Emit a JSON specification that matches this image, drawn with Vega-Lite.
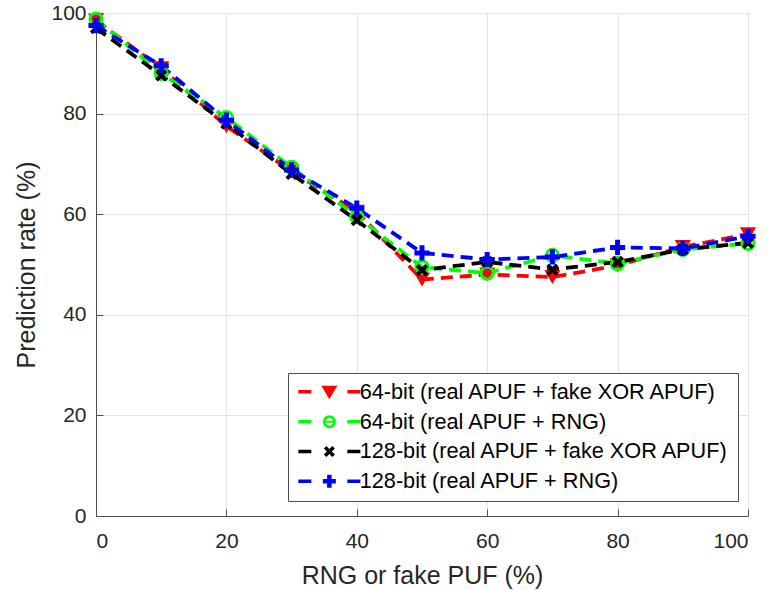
{
  "$schema": "https://vega.github.io/schema/vega-lite/v6.json",
  "width": 652,
  "height": 503,
  "autosize": {"type": "none"},
  "padding": {"left": 96, "top": 13, "right": 20, "bottom": 74},
  "background": "white",
  "config": {
    "font": "Liberation Sans",
    "view": {"stroke": "#4d4d4d", "strokeWidth": 1},
    "axis": {
      "labelFont": "Liberation Sans",
      "titleFont": "Liberation Sans",
      "labelFontSize": 21,
      "titleFontSize": 25,
      "titleFontWeight": "normal",
      "labelColor": "#262626",
      "titleColor": "#262626",
      "domainColor": "#4d4d4d",
      "tickColor": "#4d4d4d",
      "gridColor": "#e3e3e3",
      "gridWidth": 1,
      "tickSize": -7,
      "tickWidth": 1
    }
  },
  "data": {
    "values": [
      {"series": "64-bit (real APUF + fake XOR APUF)", "x": 0, "y": 98.5},
      {"series": "64-bit (real APUF + fake XOR APUF)", "x": 10, "y": 89},
      {"series": "64-bit (real APUF + fake XOR APUF)", "x": 20, "y": 77.5},
      {"series": "64-bit (real APUF + fake XOR APUF)", "x": 30, "y": 68.5},
      {"series": "64-bit (real APUF + fake XOR APUF)", "x": 40, "y": 60.5},
      {"series": "64-bit (real APUF + fake XOR APUF)", "x": 50, "y": 47},
      {"series": "64-bit (real APUF + fake XOR APUF)", "x": 60, "y": 48},
      {"series": "64-bit (real APUF + fake XOR APUF)", "x": 70, "y": 47.5},
      {"series": "64-bit (real APUF + fake XOR APUF)", "x": 80, "y": 49.8},
      {"series": "64-bit (real APUF + fake XOR APUF)", "x": 90, "y": 53.5},
      {"series": "64-bit (real APUF + fake XOR APUF)", "x": 100, "y": 56},
      {"series": "64-bit (real APUF + RNG)", "x": 0, "y": 98.8},
      {"series": "64-bit (real APUF + RNG)", "x": 10, "y": 88},
      {"series": "64-bit (real APUF + RNG)", "x": 20, "y": 79.2},
      {"series": "64-bit (real APUF + RNG)", "x": 30, "y": 69.3},
      {"series": "64-bit (real APUF + RNG)", "x": 40, "y": 59.5},
      {"series": "64-bit (real APUF + RNG)", "x": 50, "y": 49.5},
      {"series": "64-bit (real APUF + RNG)", "x": 60, "y": 48.3},
      {"series": "64-bit (real APUF + RNG)", "x": 70, "y": 51.8},
      {"series": "64-bit (real APUF + RNG)", "x": 80, "y": 50.2},
      {"series": "64-bit (real APUF + RNG)", "x": 90, "y": 53},
      {"series": "64-bit (real APUF + RNG)", "x": 100, "y": 54.2},
      {"series": "128-bit (real APUF + fake XOR APUF)", "x": 0, "y": 97},
      {"series": "128-bit (real APUF + fake XOR APUF)", "x": 10, "y": 87.6},
      {"series": "128-bit (real APUF + fake XOR APUF)", "x": 20, "y": 78},
      {"series": "128-bit (real APUF + fake XOR APUF)", "x": 30, "y": 68},
      {"series": "128-bit (real APUF + fake XOR APUF)", "x": 40, "y": 58.8},
      {"series": "128-bit (real APUF + fake XOR APUF)", "x": 50, "y": 48.9},
      {"series": "128-bit (real APUF + fake XOR APUF)", "x": 60, "y": 50.5},
      {"series": "128-bit (real APUF + fake XOR APUF)", "x": 70, "y": 49},
      {"series": "128-bit (real APUF + fake XOR APUF)", "x": 80, "y": 50.5},
      {"series": "128-bit (real APUF + fake XOR APUF)", "x": 90, "y": 53},
      {"series": "128-bit (real APUF + fake XOR APUF)", "x": 100, "y": 54.3},
      {"series": "128-bit (real APUF + RNG)", "x": 0, "y": 97.5},
      {"series": "128-bit (real APUF + RNG)", "x": 10, "y": 89.5},
      {"series": "128-bit (real APUF + RNG)", "x": 20, "y": 78.7},
      {"series": "128-bit (real APUF + RNG)", "x": 30, "y": 68.8},
      {"series": "128-bit (real APUF + RNG)", "x": 40, "y": 61.2},
      {"series": "128-bit (real APUF + RNG)", "x": 50, "y": 52.3},
      {"series": "128-bit (real APUF + RNG)", "x": 60, "y": 51},
      {"series": "128-bit (real APUF + RNG)", "x": 70, "y": 51.5},
      {"series": "128-bit (real APUF + RNG)", "x": 80, "y": 53.4},
      {"series": "128-bit (real APUF + RNG)", "x": 90, "y": 53.2},
      {"series": "128-bit (real APUF + RNG)", "x": 100, "y": 55.6}
    ]
  },
  "encoding": {
    "x": {
      "field": "x", "type": "quantitative",
      "scale": {"domain": [0, 100], "nice": false},
      "axis": {"values": [0, 20, 40, 60, 80, 100], "title": "RNG or fake PUF (%)", "labelPadding": 21, "titlePadding": 12, "grid": true}
    },
    "y": {
      "field": "y", "type": "quantitative",
      "scale": {"domain": [0, 100], "nice": false},
      "axis": {"values": [0, 20, 40, 60, 80, 100], "title": "Prediction rate (%)", "labelPadding": 17, "titlePadding": 11, "grid": true}
    }
  },
  "layer": [
    {
      "transform": [{"filter": "datum.series === '64-bit (real APUF + fake XOR APUF)'"}],
      "mark": {"type": "line", "color": "#ff0000", "strokeWidth": 3.8, "strokeDash": [12, 7]},
      "encoding": {}
    },
    {
      "transform": [{"filter": "datum.series === '64-bit (real APUF + RNG)'"}],
      "mark": {"type": "line", "color": "#00ff00", "strokeWidth": 3.8, "strokeDash": [12, 7]},
      "encoding": {}
    },
    {
      "transform": [{"filter": "datum.series === '128-bit (real APUF + fake XOR APUF)'"}],
      "mark": {"type": "line", "color": "#000000", "strokeWidth": 3.8, "strokeDash": [12, 7]},
      "encoding": {}
    },
    {
      "transform": [{"filter": "datum.series === '128-bit (real APUF + RNG)'"}],
      "mark": {"type": "line", "color": "#0000ff", "strokeWidth": 3.8, "strokeDash": [12, 7]},
      "encoding": {}
    },
    {
      "transform": [{"filter": "datum.series === '64-bit (real APUF + fake XOR APUF)'"}],
      "mark": {"type": "point", "shape": "triangle-down", "filled": true, "color": "#ff0000", "size": 260, "opacity": 1, "strokeWidth": 0}
    },
    {
      "transform": [{"filter": "datum.series === '64-bit (real APUF + RNG)'"}],
      "mark": {"type": "point", "shape": "circle", "filled": false, "stroke": "#00ff00", "fill": "transparent", "size": 150, "opacity": 1, "strokeWidth": 3}
    },
    {
      "transform": [{"filter": "datum.series === '128-bit (real APUF + fake XOR APUF)'"}],
      "mark": {"type": "point", "shape": "M-1,-0.55L-0.55,-1L0,-0.45L0.55,-1L1,-0.55L0.45,0L1,0.55L0.55,1L0,0.45L-0.55,1L-1,0.55L-0.45,0Z", "filled": true, "color": "#000000", "size": 150, "opacity": 1, "strokeWidth": 0}
    },
    {
      "transform": [{"filter": "datum.series === '128-bit (real APUF + RNG)'"}],
      "mark": {"type": "point", "shape": "M-1,-0.33L-0.33,-0.33L-0.33,-1L0.33,-1L0.33,-0.33L1,-0.33L1,0.33L0.33,0.33L0.33,1L-0.33,1L-0.33,0.33L-1,0.33Z", "filled": true, "color": "#0000ff", "size": 230, "opacity": 1, "strokeWidth": 0}
    },
    {
      "mark": {"type": "point", "filled": true, "opacity": 0, "strokeWidth": 0, "size": 100},
      "encoding": {
        "color": {
          "field": "series", "type": "nominal",
          "scale": {
            "domain": ["64-bit (real APUF + fake XOR APUF)", "64-bit (real APUF + RNG)", "128-bit (real APUF + fake XOR APUF)", "128-bit (real APUF + RNG)"],
            "range": ["#ff0000", "#00ff00", "#000000", "#0000ff"]
          },
          "legend": {
            "title": null,
            "orient": "none",
            "legendX": 192,
            "legendY": 360,
            "padding": 8,
            "strokeColor": "#4d4d4d",
            "fillColor": "white",
            "labelFont": "Liberation Sans",
            "labelFontSize": 21.7,
            "labelColor": "#000000",
            "labelLimit": 600,
            "symbolSize": 100,
            "symbolStrokeWidth": 0,
            "symbolOpacity": 1,
            "symbolOffset": 22.5,
            "labelOffset": 19.5,
            "rowPadding": 6.8
          }
        },
        "shape": {
          "field": "series", "type": "nominal",
          "scale": {
            "domain": ["64-bit (real APUF + fake XOR APUF)", "64-bit (real APUF + RNG)", "128-bit (real APUF + fake XOR APUF)", "128-bit (real APUF + RNG)"],
            "range": [
              "M-6.2,-0.35L-3.6,-0.35L-3.6,0.35L-6.2,0.35ZM3.6,-0.35L6.2,-0.35L6.2,0.35L3.6,0.35ZM-1.6,-1.2L1.6,-1.2L0,1.5Z",
              "M-6.2,-0.35L-3.6,-0.35L-3.6,0.35L-6.2,0.35ZM3.6,-0.35L6.2,-0.35L6.2,0.35L3.6,0.35ZM-1.3,0A1.3,1.3,0,1,1,1.3,0A1.3,1.3,0,1,1,-1.3,0ZM-0.75,0A0.75,0.75,0,1,0,0.75,0A0.75,0.75,0,1,0,-0.75,0ZM-0.75,-0.2L0.75,-0.2L0.75,0.2L-0.75,0.2Z",
              "M-6.2,-0.35L-3.6,-0.35L-3.6,0.35L-6.2,0.35ZM3.6,-0.35L6.2,-0.35L6.2,0.35L3.6,0.35ZM-1.1,-0.6L-0.6,-1.1L0,-0.5L0.6,-1.1L1.1,-0.6L0.5,0L1.1,0.6L0.6,1.1L0,0.5L-0.6,1.1L-1.1,0.6L-0.5,0Z",
              "M-6.2,-0.35L-3.6,-0.35L-3.6,0.35L-6.2,0.35ZM3.6,-0.35L6.2,-0.35L6.2,0.35L3.6,0.35ZM-1.3,-0.45L-0.45,-0.45L-0.45,-1.3L0.45,-1.3L0.45,-0.45L1.3,-0.45L1.3,0.45L0.45,0.45L0.45,1.3L-0.45,1.3L-0.45,0.45L-1.3,0.45Z"
            ]
          },
          "legend": {
            "title": null,
            "orient": "none",
            "legendX": 192,
            "legendY": 360,
            "padding": 8,
            "strokeColor": "#4d4d4d",
            "fillColor": "white",
            "labelFont": "Liberation Sans",
            "labelFontSize": 21.7,
            "labelColor": "#000000",
            "labelLimit": 600,
            "symbolSize": 100,
            "symbolStrokeWidth": 0,
            "symbolOpacity": 1,
            "symbolOffset": 22.5,
            "labelOffset": 19.5,
            "rowPadding": 6.8
          }
        }
      }
    }
  ]
}
